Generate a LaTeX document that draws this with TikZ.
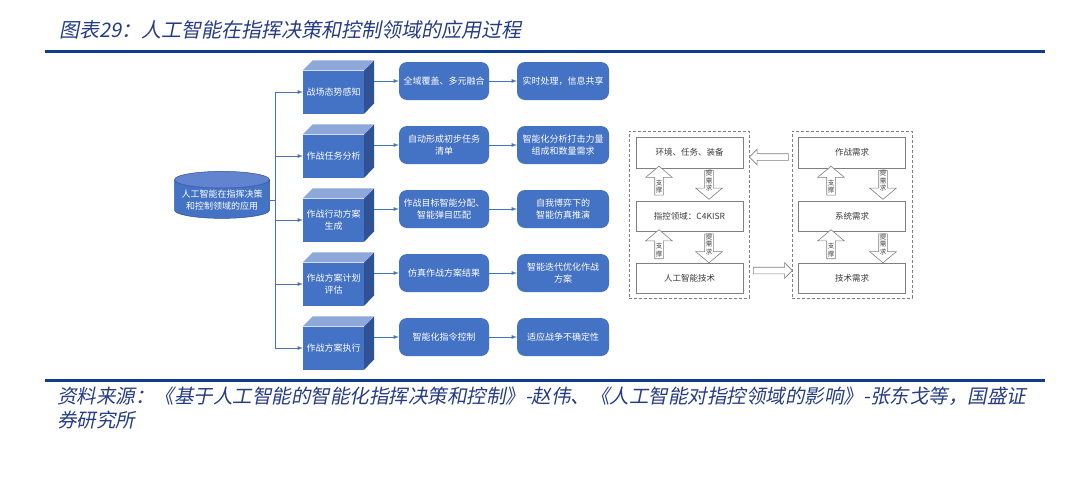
\documentclass[tikz,border=0pt]{standalone}
\usepackage{fontspec}
\setmainfont{Noto Sans CJK SC}
\newfontfamily\slantcjk[FakeSlant=0.2]{Noto Sans CJK SC}
\usetikzlibrary{arrows,shapes.geometric,shapes.arrows}

\definecolor{boxblue}{RGB}{68,114,196}
\definecolor{cubetop}{RGB}{143,168,220}
\definecolor{cubeside}{RGB}{47,82,150}
\definecolor{cyltop}{RGB}{98,132,208}
\definecolor{rulenavy}{RGB}{14,60,145}
\definecolor{titleblue}{RGB}{38,60,135}
\definecolor{linegray}{RGB}{128,128,128}
\definecolor{textgray}{RGB}{60,60,60}

\tikzset{
	cubefront/.style={fill=boxblue, text=white, minimum width=61pt, minimum height=43pt, inner sep=1pt, align=center, font=\fontsize{9}{12}\selectfont},
	stagebox/.style={fill=boxblue, rounded corners=8pt, text=white, minimum height=38pt, inner sep=1pt, align=center, font=\fontsize{9}{12}\selectfont},
	flowline/.style={draw=boxblue, line width=0.8pt},
	layerbox/.style={draw=linegray, fill=white, text=textgray, minimum width=107pt, minimum height=30pt, font=\fontsize{8.5}{10}\selectfont},
	groupbox/.style={draw=linegray, dash pattern=on 3pt off 2pt, line width=0.8pt, minimum width=120pt, minimum height=167pt},
	fatarrow/.style={single arrow, draw=linegray, fill=white, line width=0.6pt, inner sep=4pt, single arrow head extend=9pt, single arrow tip angle=100, minimum height=29pt},
	flatarrow/.style={fatarrow, inner sep=3pt, single arrow head extend=4.5pt, single arrow tip angle=90, minimum height=39pt},
	arrowtext/.style={font=\fontsize{6.5}{7.5}\selectfont, align=center, text=textgray, inner sep=0pt},
}

\begin{document}
\begin{tikzpicture}[x=1pt,y=-1pt]
	\fill[white] (0,0) rectangle (1085,485);
	\useasboundingbox (0,0) rectangle (1085,485);
	
	% header and footer
	\draw (59,37) node[anchor=base west, inner sep=0pt, text=titleblue, font=\slantcjk\fontsize{20}{22}\selectfont] (title) {图表29：人工智能在指挥决策和控制领域的应用过程};
	\draw[rulenavy, line width=3pt] (45,51) -- (1045,51);
	\draw[rulenavy, line width=3pt] (45,380) -- (1045,380);
	\draw (57,403.5) node[anchor=base west, inner sep=0pt, text=titleblue, font=\slantcjk\fontsize{19.5}{24}\selectfont] (source) {资料来源：《基于人工智能的智能化指挥决策和控制》-赵伟、《人工智能对指控领域的影响》-张东戈等，国盛证};
	\draw (57,427.5) node[anchor=base west, inner sep=0pt, text=titleblue, font=\slantcjk\fontsize{19.5}{24}\selectfont] (source2) {券研究所};
	
	% process tree
	\draw (222,200) node[cylinder, shape border rotate=90, aspect=0.2, minimum width=95pt, minimum height=47pt, cylinder uses custom fill, cylinder body fill=boxblue, cylinder end fill=cyltop, draw=cubeside, line width=0.5pt, text=white, align=center, inner sep=1pt, font=\fontsize{9}{12}\selectfont] (core) {人工智能在指挥决策\\和控制领域的应用};
	\coordinate (trunktop) at (275,92);
	\coordinate (trunkbot) at (275,348);
	\draw[flowline] (trunktop) -- (trunkbot);
	\draw[flowline] (core) -- (core -| trunktop);
	
	\foreach \i/\yy/\cubetext/\txta/\txtb in {
		1/81/{战场态势感知}/{全域覆盖、多元融合}/{实时处理，信息共享},
		2/145/{作战任务分析}/{自动形成初步任务\\清单}/{智能化分析打击力量\\组成和数量需求},
		3/209/{作战行动方案\\生成}/{作战目标智能分配、\\智能弹目匹配}/{自我博弈下的\\智能仿真推演},
		4/273/{作战方案计划\\评估}/{仿真作战方案结果}/{智能迭代优化作战\\方案},
		5/337/{作战方案执行}/{智能化指令控制}/{适应战争不确定性}}{
		\draw (333.5,\yy+11) node[cubefront] (cube\i) {\cubetext};
		\fill[cubetop] (cube\i.north west) -- ++(10,-10) -- ++(61,0) -- (cube\i.north east) -- cycle;
		\fill[cubeside] (cube\i.north east) -- ++(10,-10) -- ++(0,43) -- (cube\i.south east) -- cycle;
		\coordinate (side\i) at ([xshift=10pt]cube\i.east);
		\draw (444,\yy) node[stagebox, minimum width=90pt] (task\i) {\txta};
		\draw (563,\yy) node[stagebox, minimum width=92pt] (goal\i) {\txtb};
		\draw[flowline,-latex] (cube\i -| trunktop) -- (cube\i);
		\draw[flowline,-latex] (side\i |- task\i) -- (task\i);
		\draw[flowline,-latex] (task\i) -- (goal\i);
	}
	
	% domain and demand layers
	\draw (689,214.5) node[groupbox] (grpL) {};
	\draw (852,214.5) node[groupbox] (grpR) {};
	\draw (689.5,152.5) node[layerbox, minimum height=31pt] (env) {环境、任务、装备};
	\draw (689.5,216) node[layerbox] (c4) {指控领域：C4KISR};
	\draw (689.5,278) node[layerbox] (aitech) {人工智能技术};
	\draw (852,152.5) node[layerbox, minimum height=31pt] (opreq) {作战需求};
	\draw (852,216) node[layerbox] (sysreq) {系统需求};
	\draw (852,278) node[layerbox] (techreq) {技术需求};
	
	\foreach \cx/\dx/\ya/\yb/\n in {659/709/182.5/183/1, 659/709/246/246.5/2, 831/883/182.5/183/3, 831/883/246/246.5/4}{
		\draw (\cx,\ya) node[fatarrow, rotate=90] (up\n) {};
		\draw ([yshift=-4pt]up\n.center) node[arrowtext] {支\\撑};
		\draw (\dx,\yb) node[fatarrow, rotate=-90] (down\n) {};
		\draw ([yshift=2pt]down\n.center) node[arrowtext] {提\\需\\求};
	}
	\draw (770.5,157) node[flatarrow, rotate=180] (feedback) {};
	\draw (771.2,270.5) node[flatarrow] (drive) {};
\end{tikzpicture}
\end{document}
